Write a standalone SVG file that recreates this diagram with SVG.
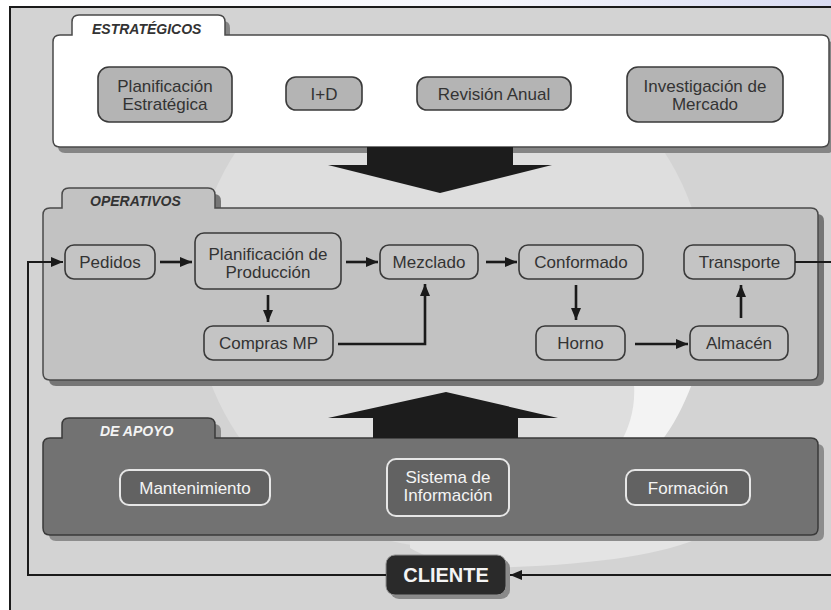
<svg xmlns="http://www.w3.org/2000/svg" width="831" height="610" viewBox="0 0 831 610">
  <defs>
    <linearGradient id="topTint" x1="0" y1="0" x2="1" y2="0">
      <stop offset="0" stop-color="#ffffff"/>
      <stop offset="0.6" stop-color="#f4f5fb"/>
      <stop offset="1" stop-color="#d9dcf2"/>
    </linearGradient>
    <marker id="head" viewBox="0 0 12 10" refX="12" refY="5" markerWidth="12" markerHeight="10" markerUnits="userSpaceOnUse" orient="auto">
      <path d="M0,0 L12,5 L0,10 Z" fill="#1a1a1a"/>
    </marker>
    <path id="panelStrat" d="M60,35 L72,35 L72,22 Q72,15 79,15 L218,15 Q225,15 225,22 L225,35 L822,35 Q829,35 829,42 L829,140 Q829,147 822,147 L60,147 Q53,147 53,140 L53,42 Q53,35 60,35 Z"/>
    <path id="panelOper" d="M50,208 L62,208 L62,195 Q62,188 69,188 L208,188 Q215,188 215,195 L215,208 L811,208 Q818,208 818,215 L818,373 Q818,380 811,380 L50,380 Q43,380 43,373 L43,215 Q43,208 50,208 Z"/>
    <path id="panelApoyo" d="M50,438 L62,438 L62,425 Q62,418 69,418 L208,418 Q215,418 215,425 L215,438 L811,438 Q818,438 818,445 L818,528 Q818,535 811,535 L50,535 Q43,535 43,528 L43,445 Q43,438 50,438 Z"/>
  </defs>
  <style>
    .txt { font-family: "Liberation Sans", Arial, sans-serif; font-size: 17px; fill: #333333; text-anchor: middle; }
    .light { fill: #f4f4f4; }
    .tab { font-family: "Liberation Sans", Arial, sans-serif; font-size: 14px; font-weight: bold; font-style: italic; fill: #333333; }
    .tabLight { fill: #f4f4f4; }
    .nodeS { fill: #b4b4b4; stroke: #3a3a3a; stroke-width: 1.6; }
    .nodeO { fill: #c4c4c4; stroke: #3a3a3a; stroke-width: 1.6; }
    .nodeA { fill: #626262; stroke: #e6e6e6; stroke-width: 2; }
    .shadow { fill: #858585; }
    .link { fill: none; stroke: #1a1a1a; stroke-width: 2.6; }
    .feed { fill: none; stroke: #1a1a1a; stroke-width: 2; }
    .big { fill: #1c1c1c; }
  </style>

  <!-- page background and frame -->
  <rect x="0" y="0" width="831" height="610" fill="#ffffff"/>
  <rect x="0" y="0" width="831" height="7" fill="url(#topTint)"/>
  <rect x="10" y="7" width="830" height="610" fill="#d3d3d3" stroke="#1a1a1a" stroke-width="2"/>

  <!-- faint background emblem -->
  <g id="emblem">
    <circle cx="450" cy="292" r="256" fill="#dedede"/>
    <path d="M692,384 Q678,420 662,440 L622,440 Q636,414 634,384 Z" fill="#f3f3f3"/>
    <path d="M410,538 Q560,545 704,536 Q640,566 470,568 Q430,560 410,548 Z" fill="#e4e4e4"/>
  </g>

  <!-- panels -->
  <g id="estrategicos">
    <use href="#panelStrat" class="shadow" transform="translate(5,6)"/>
    <use href="#panelStrat" fill="#ffffff" stroke="#4a4a4a" stroke-width="1.5"/>
    <text class="tab" x="92" y="34">ESTRATÉGICOS</text>
  </g>
  <g id="operativos">
    <use href="#panelOper" fill="#767676" transform="translate(6,6)"/>
    <use href="#panelOper" fill="#c2c2c2" stroke="#4a4a4a" stroke-width="1.5"/>
    <text class="tab" x="90" y="206">OPERATIVOS</text>
  </g>
  <g id="de-apoyo">
    <use href="#panelApoyo" fill="#8c8c8c" transform="translate(6,6)"/>
    <use href="#panelApoyo" fill="#727272" stroke="#3a3a3a" stroke-width="1.5"/>
    <text class="tab tabLight" x="100" y="436">DE APOYO</text>
  </g>

  <!-- large flow arrows between levels -->
  <g id="big-arrows">
    <path class="big" d="M367,147 L513,147 L513,165 L552,165 L440,193 L328,165 L367,165 Z"/>
    <path class="big" d="M373,438 L518,438 L518,418 L558,418 L446,392 L328,418 L373,418 Z"/>
  </g>

  <!-- strategic nodes -->
  <g id="planificacion-estrategica">
    <rect class="nodeS" x="98" y="67" width="134" height="55" rx="11"/>
    <text class="txt" x="165" y="92">Planificación</text>
    <text class="txt" x="165" y="110">Estratégica</text>
  </g>
  <g id="i-d">
    <rect class="nodeS" x="286" y="77" width="76" height="33" rx="10"/>
    <text class="txt" x="324" y="99.5">I+D</text>
  </g>
  <g id="revision-anual">
    <rect class="nodeS" x="417" y="77" width="154" height="33" rx="10"/>
    <text class="txt" x="494" y="99.5">Revisión Anual</text>
  </g>
  <g id="investigacion-mercado">
    <rect class="nodeS" x="627" y="67" width="156" height="55" rx="11"/>
    <text class="txt" x="705" y="92">Investigación de</text>
    <text class="txt" x="705" y="110">Mercado</text>
  </g>

  <!-- operational nodes -->
  <g id="pedidos">
    <rect class="nodeO" x="65" y="245" width="90" height="34" rx="9"/>
    <text class="txt" x="110" y="268">Pedidos</text>
  </g>
  <g id="planificacion-produccion">
    <rect class="nodeO" x="195" y="233" width="146" height="56" rx="9"/>
    <text class="txt" x="268" y="259.5">Planificación de</text>
    <text class="txt" x="268" y="277.5">Producción</text>
  </g>
  <g id="mezclado">
    <rect class="nodeO" x="380" y="245" width="98" height="34" rx="9"/>
    <text class="txt" x="429" y="268">Mezclado</text>
  </g>
  <g id="conformado">
    <rect class="nodeO" x="519" y="245" width="124" height="34" rx="9"/>
    <text class="txt" x="581" y="268">Conformado</text>
  </g>
  <g id="transporte">
    <rect class="nodeO" x="684" y="245" width="111" height="34" rx="9"/>
    <text class="txt" x="739.5" y="268">Transporte</text>
  </g>
  <g id="compras-mp">
    <rect class="nodeO" x="204" y="326" width="129" height="34" rx="9"/>
    <text class="txt" x="268.5" y="349">Compras MP</text>
  </g>
  <g id="horno">
    <rect class="nodeO" x="536" y="326" width="89" height="34" rx="9"/>
    <text class="txt" x="580.5" y="349">Horno</text>
  </g>
  <g id="almacen">
    <rect class="nodeO" x="690" y="326" width="98" height="34" rx="9"/>
    <text class="txt" x="739" y="349">Almacén</text>
  </g>

  <!-- support nodes -->
  <g id="mantenimiento">
    <rect class="nodeA" x="120" y="470" width="150" height="35" rx="9"/>
    <text class="txt light" x="195" y="493.5">Mantenimiento</text>
  </g>
  <g id="sistema-informacion">
    <rect class="nodeA" x="387" y="459" width="122" height="57" rx="9"/>
    <text class="txt light" x="448" y="482.5">Sistema de</text>
    <text class="txt light" x="448" y="500.5">Información</text>
  </g>
  <g id="formacion">
    <rect class="nodeA" x="626" y="470" width="124" height="35" rx="9"/>
    <text class="txt light" x="688" y="493.5">Formación</text>
  </g>

  <!-- customer -->
  <g id="cliente">
    <rect x="390" y="559" width="120" height="40" rx="9" fill="#8a8a8a"/>
    <rect x="386" y="555" width="120" height="40" rx="9" fill="#2a2a2a" stroke="#8e8e8e" stroke-width="1"/>
    <text x="446" y="582" font-family="'Liberation Sans', Arial, sans-serif" font-size="20" font-weight="bold" fill="#f4f4f4" text-anchor="middle">CLIENTE</text>
  </g>

  <!-- connectors -->
  <g id="connectors">
    <line class="link" x1="160" y1="262" x2="192" y2="262" marker-end="url(#head)"/>
    <line class="link" x1="346" y1="262" x2="378" y2="262" marker-end="url(#head)"/>
    <line class="link" x1="486" y1="262" x2="517" y2="262" marker-end="url(#head)"/>
    <line class="link" x1="268" y1="295" x2="268" y2="322" marker-end="url(#head)"/>
    <polyline class="link" points="338,344 425,344 425,284" marker-end="url(#head)"/>
    <line class="link" x1="576" y1="285" x2="576" y2="320" marker-end="url(#head)"/>
    <line class="link" x1="635" y1="344" x2="688" y2="344" marker-end="url(#head)"/>
    <line class="link" x1="741" y1="318" x2="741" y2="285" marker-end="url(#head)"/>
    <!-- feedback loop through the customer -->
    <polyline class="feed" points="795,262 833,262"/>
    <line class="feed" x1="833" y1="575" x2="510" y2="575" marker-end="url(#head)"/>
    <polyline class="feed" points="386,575 28,575 28,262 63,262" marker-end="url(#head)"/>
  </g>
</svg>
